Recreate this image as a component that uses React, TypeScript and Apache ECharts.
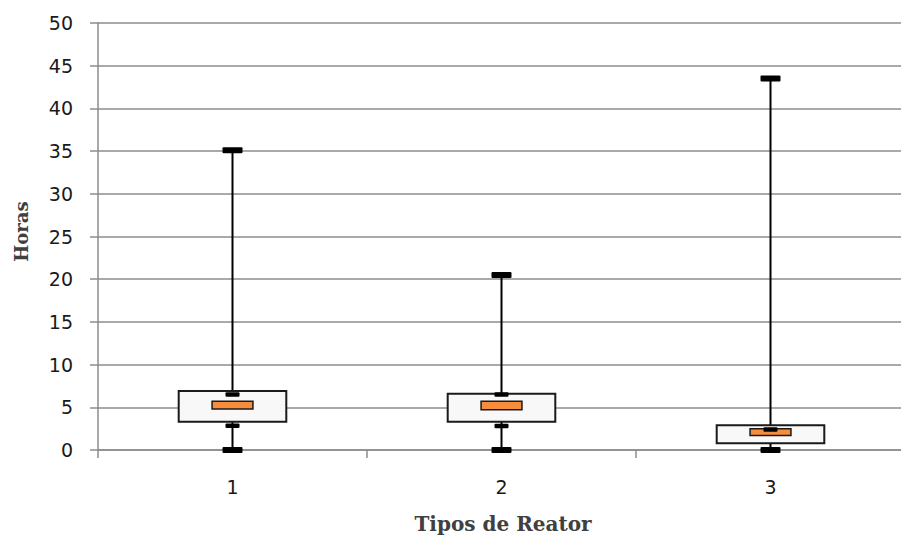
import React, { useEffect, useRef } from "react";
import * as echarts from "echarts";

const categories = ["1", "2", "3"];
const minValues = [0, 0, 0];
const maxValues = [35.1, 20.5, 43.5];
const q1Values = [3.3, 3.3, 0.8];
const q3Values = [6.9, 6.6, 2.9];
const centerLow = [4.8, 4.7, 1.7];
const centerHigh = [5.7, 5.7, 2.5];
const innerLow = [2.85, 2.8, 0];
const innerHigh = [6.5, 6.5, 2.4];
const yTicks = [0, 5, 10, 15, 20, 25, 30, 35, 40, 45, 50];

export default function App() {
  const ref = useRef<HTMLDivElement>(null);
  useEffect(() => {
    if (!ref.current) return;
    const chart = echarts.init(ref.current, undefined, { renderer: "svg" });
    const data = categories.map((_, i) => [
      i,
      minValues[i],
      q1Values[i],
      centerLow[i],
      centerHigh[i],
      q3Values[i],
      maxValues[i],
      innerLow[i],
      innerHigh[i],
    ]);
    const gridColor = "#8c8c8c";
    const labelStyle = {
      color: "#1a1a1a",
      fontFamily: "DejaVu Sans",
      fontSize: 19,
    };
    chart.setOption({
      animation: false,
      backgroundColor: "#ffffff",
      grid: { left: 98, right: 5, top: 23, bottom: 85, containLabel: false },
      xAxis: {
        type: "category",
        data: categories,
        boundaryGap: true,
        axisLine: { show: true, lineStyle: { color: gridColor, width: 1.5 } },
        axisTick: { show: true, length: 8, lineStyle: { color: gridColor, width: 1.5 } },
        axisLabel: { margin: 27, ...labelStyle },
        splitLine: { show: false },
      },
      yAxis: {
        type: "value",
        min: yTicks[0],
        max: yTicks[yTicks.length - 1],
        interval: 5,
        axisLine: { show: true, lineStyle: { color: gridColor, width: 1.5 } },
        axisTick: { show: true, length: 8, lineStyle: { color: gridColor, width: 1.5 } },
        axisLabel: { margin: 25, ...labelStyle },
        splitLine: { show: true, lineStyle: { color: gridColor, width: 1.5 } },
      },
      graphic: [
        {
          type: "text",
          x: 21.5,
          y: 231.5,
          rotation: Math.PI / 2,
          style: {
            text: "Horas",
            fontFamily: "DejaVu Serif",
            fontWeight: "bold",
            fontSize: 18,
            fill: "#404040",
            align: "center",
            verticalAlign: "middle",
          },
        },
        {
          type: "text",
          x: 503,
          y: 524,
          style: {
            text: "Tipos de Reator",
            fontFamily: "DejaVu Serif",
            fontWeight: "bold",
            fontSize: 20,
            fill: "#404040",
            align: "center",
            verticalAlign: "middle",
          },
        },
      ],
      series: [
        {
          type: "custom",
          data,
          encode: { x: 0, y: [1, 2, 3, 4, 5, 6, 7, 8] },
          renderItem: (params: any, api: any) => {
            const cat = api.value(0);
            const x = api.coord([cat, 0])[0];
            const bw = api.size([1, 0])[0];
            const yOf = (v: number) => api.coord([cat, v])[1];
            const vMin = api.value(1);
            const vQ1 = api.value(2);
            const vCL = api.value(3);
            const vCH = api.value(4);
            const vQ3 = api.value(5);
            const vMax = api.value(6);
            const vIL = api.value(7);
            const vIH = api.value(8);
            const boxW = bw * 0.4;
            const midW = bw * 0.152;
            const cap = (v: number, w: number, h: number) => ({
              type: "rect",
              shape: { x: x - w / 2, y: yOf(v) - h / 2, width: w, height: h, r: 1 },
              style: { fill: "#000000" },
            });
            return {
              type: "group",
              children: [
                {
                  type: "line",
                  shape: { x1: x, y1: yOf(vMax), x2: x, y2: yOf(vMin) },
                  style: { stroke: "#000000", lineWidth: 2 },
                },
                {
                  type: "rect",
                  shape: { x: x - boxW / 2, y: yOf(vQ3), width: boxW, height: yOf(vQ1) - yOf(vQ3) },
                  style: { fill: "#f8f8f8", stroke: "#1a1a1a", lineWidth: 2 },
                },
                {
                  type: "rect",
                  shape: { x: x - midW / 2, y: yOf(vCH), width: midW, height: yOf(vCL) - yOf(vCH) },
                  style: { fill: "#f68d3d", stroke: "#1a1a1a", lineWidth: 1.5 },
                },
                cap(vIH, 14, 4.5),
                cap(vIL, 14, 4.5),
                cap(vMin, 20, 6),
                cap(vMax, 20, 6),
              ],
            };
          },
        },
      ],
    });
    return () => chart.dispose();
  }, []);
  return (
    <div style={{ position: "absolute", left: 0, top: 0, width: 901, height: 535, overflow: "hidden", background: "#fff" }}>
      <div ref={ref} style={{ width: 910, height: 535 }} />
    </div>
  );
}
